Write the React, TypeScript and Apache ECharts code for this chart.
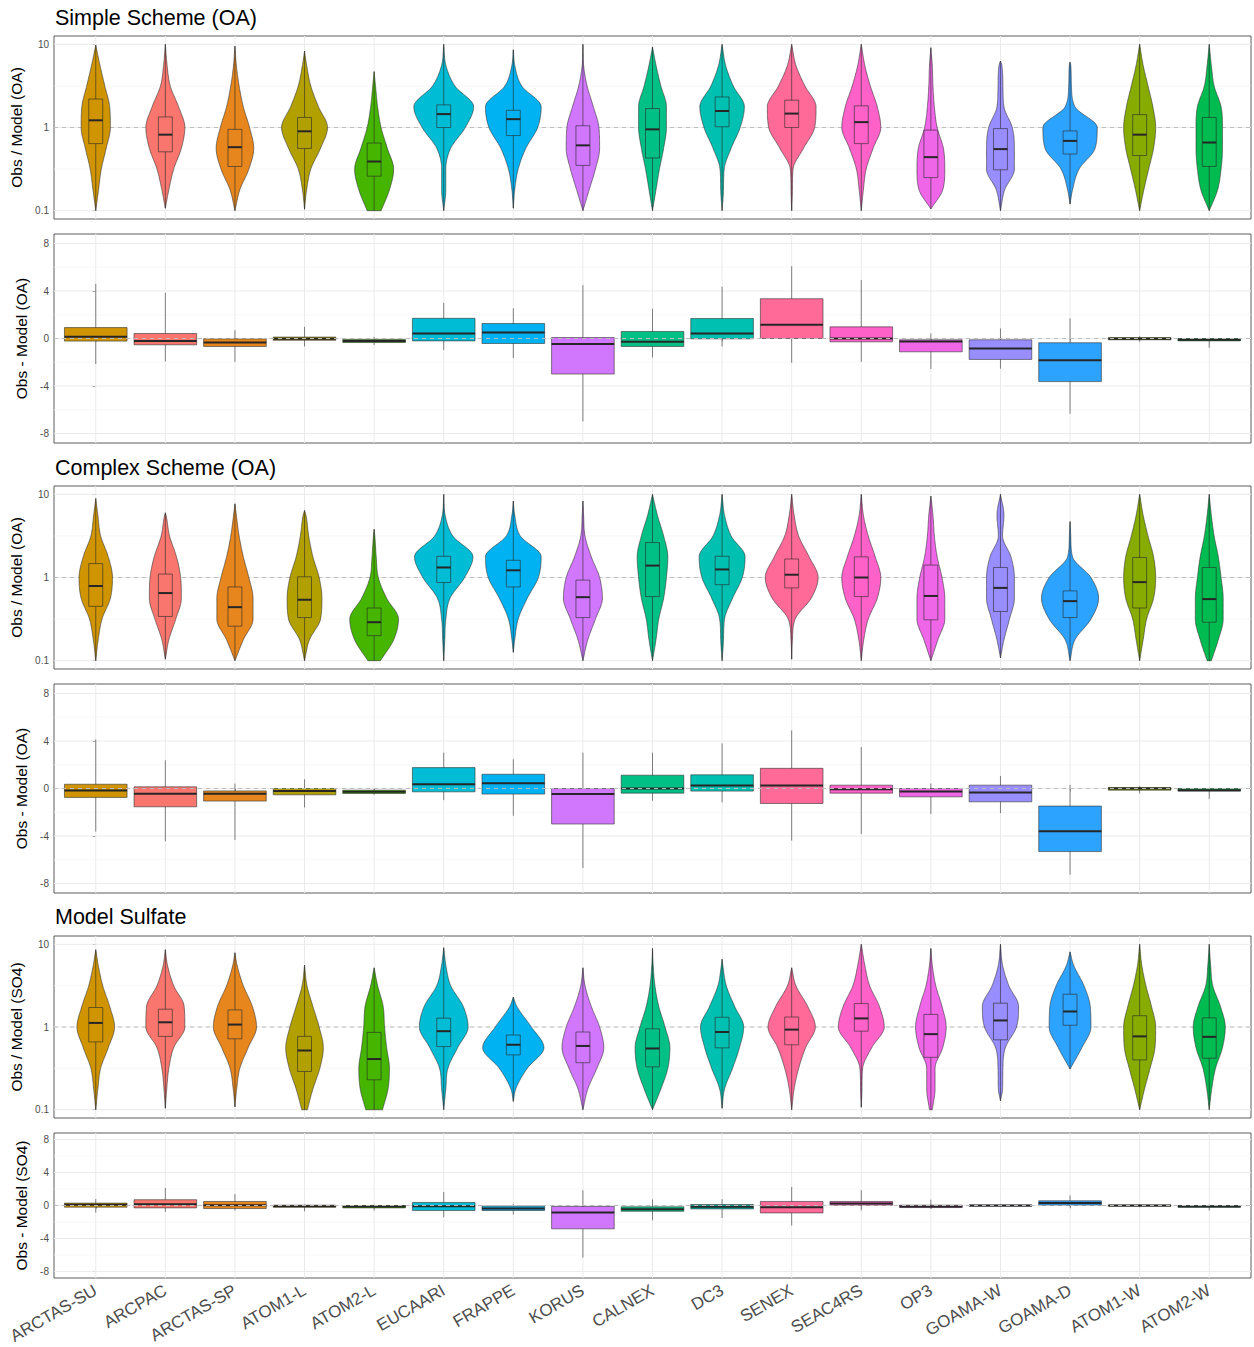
import React, { useEffect, useRef } from "react";
import * as echarts from "echarts";

// ---------------- data ----------------
const categories = [
  "ARCTAS-SU", "ARCPAC", "ARCTAS-SP", "ATOM1-L", "ATOM2-L", "EUCAARI", "FRAPPE", "KORUS",
  "CALNEX", "DC3", "SENEX", "SEAC4RS", "OP3", "GOAMA-W", "GOAMA-D", "ATOM1-W", "ATOM2-W",
];
const categoryColors = [
  "#CF9400", "#F8766D", "#E6861D", "#B2A000", "#45B500", "#00BCD4", "#00B2F1", "#D077FD",
  "#00C086", "#00C0B1", "#FF6A98", "#FE61C7", "#F066E8", "#998EFF", "#2CA3FF", "#88AB00", "#00BB50",
];

const panelTitles = ["Simple Scheme (OA)", "Complex Scheme (OA)", "Model Sulfate"];
const yAxisNames = [
  "Obs / Model (OA)", "Obs - Model (OA)",
  "Obs / Model (OA)", "Obs - Model (OA)",
  "Obs / Model (SO4)", "Obs - Model (SO4)",
];

const ratioTickValues = [0.1, 1, 10];
const ratioTickLabels = ["0.1", "1", "10"];
const ratioMinorValues = [0.3162, 3.162];
const ratioRefValue = 1;
const diffTickValues = [-8, -4, 0, 4, 8];
const diffMinorValues = [-6, -2, 2, 6];
const diffRefValue = 0;

// violin half-widths (fraction of category spacing) sampled at these log10 levels
const widthLevelsLog10 = [-1, -0.75, -0.5, -0.25, 0, 0.25, 0.5, 0.75, 1];

// ---- Simple scheme: Obs / Model ----
const simpleLo = [0.1, 0.107, 0.1, 0.104, 0.1, 0.1, 0.107, 0.1, 0.1, 0.1, 0.1, 0.1, 0.105, 0.1, 0.12, 0.1, 0.1];
const simpleHi = [9.8, 10, 9.5, 8.3, 4.7, 10, 8.6, 10, 9.3, 10, 10, 10, 9.1, 6.3, 6.1, 10, 10];
const simpleQ1 = [0.64, 0.51, 0.34, 0.56, 0.26, 1.0, 0.8, 0.35, 0.43, 1.02, 1.0, 0.64, 0.25, 0.31, 0.48, 0.46, 0.34];
const simpleMed = [1.22, 0.82, 0.58, 0.9, 0.39, 1.45, 1.26, 0.61, 0.95, 1.58, 1.47, 1.16, 0.44, 0.55, 0.69, 0.82, 0.66];
const simpleQ3 = [2.2, 1.34, 0.95, 1.32, 0.65, 1.87, 1.61, 1.05, 1.69, 2.33, 2.13, 1.82, 0.93, 0.97, 0.91, 1.43, 1.32];
const simpleWidth = [
  [0, 0.04, 0.08, 0.15, 0.21, 0.2, 0.13, 0.06, 0],
  [0, 0.05, 0.12, 0.23, 0.28, 0.19, 0.07, 0.025, 0],
  [0, 0.07, 0.2, 0.27, 0.21, 0.12, 0.06, 0.02, 0],
  [0, 0.03, 0.09, 0.23, 0.33, 0.2, 0.09, 0.03, 0],
  [0.1, 0.22, 0.28, 0.19, 0.1, 0.05, 0.02, 0, 0],
  [0, 0.03, 0.03, 0.1, 0.31, 0.43, 0.16, 0.03, 0],
  [0, 0.02, 0.07, 0.18, 0.35, 0.4, 0.12, 0.02, 0],
  [0, 0.09, 0.18, 0.24, 0.23, 0.15, 0.06, 0.01, 0],
  [0, 0.05, 0.1, 0.16, 0.2, 0.2, 0.12, 0.05, 0],
  [0, 0.02, 0.03, 0.13, 0.26, 0.32, 0.16, 0.05, 0],
  [0, 0.01, 0.02, 0.17, 0.33, 0.35, 0.19, 0.06, 0],
  [0, 0.03, 0.07, 0.17, 0.28, 0.23, 0.13, 0.05, 0],
  [0, 0.17, 0.2, 0.18, 0.09, 0.05, 0.03, 0.02, 0],
  [0, 0.06, 0.2, 0.2, 0.17, 0.05, 0.035, 0.02, 0],
  [0, 0.035, 0.13, 0.36, 0.39, 0.07, 0.02, 0.01, 0],
  [0, 0.06, 0.13, 0.2, 0.23, 0.19, 0.12, 0.05, 0],
  [0, 0.12, 0.17, 0.19, 0.19, 0.17, 0.07, 0.03, 0],
];

// ---- Simple scheme: Obs - Model ----
const simpleDiffLow = [-2.15, -1.93, -1.96, -0.67, -0.56, -0.98, -1.65, -6.98, -1.6, -0.67, -2.04, -1.96, -2.57, -2.54, -6.34, -0.28, -0.78];
const simpleDiffQ1 = [-0.22, -0.53, -0.67, -0.15, -0.34, -0.2, -0.42, -2.99, -0.67, -0.03, 0, -0.28, -1.12, -1.76, -3.63, -0.11, -0.2];
const simpleDiffMed = [0.14, -0.2, -0.34, -0.02, -0.2, 0.42, 0.5, -0.47, -0.28, 0.42, 1.15, 0.0, -0.25, -0.84, -1.84, -0.03, -0.11];
const simpleDiffQ3 = [0.92, 0.42, -0.03, 0.12, -0.08, 1.7, 1.26, 0.08, 0.59, 1.68, 3.35, 0.98, -0.11, -0.11, -0.36, 0.08, 0.0];
const simpleDiffHigh = [4.6, 3.85, 0.7, 0.98, 0.14, 3.0, 2.54, 4.5, 2.51, 4.36, 6.09, 4.92, 0.42, 0.84, 1.7, 0.2, 0.06];

// ---- Complex scheme: Obs / Model ----
const complexLo = [0.1, 0.104, 0.1, 0.1, 0.1, 0.1, 0.126, 0.1, 0.1, 0.1, 0.104, 0.1, 0.1, 0.108, 0.1, 0.1, 0.1];
const complexHi = [8.9, 6.0, 7.7, 6.4, 3.8, 10, 8.3, 8.3, 10, 10, 10, 10, 9.5, 10, 4.7, 10, 10];
const complexQ1 = [0.45, 0.34, 0.26, 0.33, 0.2, 0.87, 0.77, 0.33, 0.59, 0.82, 0.75, 0.59, 0.31, 0.39, 0.33, 0.43, 0.29];
const complexMed = [0.79, 0.65, 0.44, 0.54, 0.29, 1.32, 1.22, 0.58, 1.39, 1.25, 1.08, 1.0, 0.6, 0.75, 0.52, 0.88, 0.55];
const complexQ3 = [1.47, 1.1, 0.77, 1.02, 0.43, 1.8, 1.61, 0.93, 2.63, 1.8, 1.67, 1.77, 1.41, 1.32, 0.69, 1.74, 1.32];
const complexWidth = [
  [0, 0.035, 0.09, 0.21, 0.24, 0.18, 0.07, 0.03, 0],
  [0, 0.05, 0.15, 0.23, 0.22, 0.16, 0.06, 0.01, 0],
  [0, 0.12, 0.26, 0.26, 0.2, 0.12, 0.06, 0.02, 0],
  [0, 0.07, 0.23, 0.25, 0.21, 0.12, 0.06, 0.02, 0],
  [0.09, 0.28, 0.35, 0.18, 0.06, 0.03, 0.01, 0, 0],
  [0, 0.015, 0.03, 0.09, 0.3, 0.42, 0.13, 0.02, 0],
  [0, 0.02, 0.07, 0.2, 0.36, 0.4, 0.1, 0.02, 0],
  [0, 0.07, 0.18, 0.28, 0.24, 0.12, 0.03, 0.01, 0],
  [0, 0.05, 0.09, 0.16, 0.2, 0.22, 0.16, 0.07, 0],
  [0, 0.02, 0.035, 0.15, 0.29, 0.33, 0.13, 0.035, 0],
  [0, 0.01, 0.05, 0.28, 0.38, 0.25, 0.1, 0.035, 0],
  [0, 0.035, 0.1, 0.23, 0.28, 0.2, 0.1, 0.03, 0],
  [0, 0.1, 0.2, 0.2, 0.16, 0.09, 0.05, 0.03, 0],
  [0, 0.05, 0.13, 0.2, 0.2, 0.15, 0.03, 0.05, 0],
  [0, 0.07, 0.3, 0.41, 0.3, 0.035, 0.01, 0, 0],
  [0, 0.05, 0.1, 0.2, 0.23, 0.2, 0.12, 0.05, 0],
  [0.03, 0.13, 0.2, 0.2, 0.17, 0.13, 0.07, 0.03, 0],
];

// ---- Complex scheme: Obs - Model ----
const complexDiffLow = [-3.63, -4.44, -4.33, -1.59, -0.53, -0.98, -2.29, -6.7, -1.03, -1.17, -4.39, -3.83, -2.15, -2.07, -7.26, -0.42, -0.89];
const complexDiffQ1 = [-0.75, -1.54, -1.06, -0.53, -0.42, -0.28, -0.47, -2.99, -0.39, -0.22, -1.26, -0.39, -0.7, -1.12, -5.31, -0.14, -0.22];
const complexDiffMed = [-0.17, -0.45, -0.45, -0.22, -0.28, 0.36, 0.45, -0.47, 0.0, 0.25, 0.25, -0.06, -0.25, -0.34, -3.6, 0.0, -0.14];
const complexDiffQ3 = [0.36, 0.14, -0.2, 0.0, -0.14, 1.76, 1.2, 0.0, 1.12, 1.15, 1.7, 0.28, 0.0, 0.28, -1.48, 0.08, 0.0];
const complexDiffHigh = [4.13, 2.37, 0.42, 0.78, 0.0, 3.02, 2.46, 3.02, 3.02, 3.8, 4.89, 3.49, 0.42, 1.06, 0.31, 0.22, 0.06];

// ---- Sulfate: Obs / Model ----
const sulfateLo = [0.1, 0.104, 0.108, 0.1, 0.1, 0.1, 0.126, 0.1, 0.1, 0.104, 0.1, 0.107, 0.1, 0.128, 0.31, 0.1, 0.1];
const sulfateHi = [8.6, 8.6, 7.9, 5.6, 5.2, 9.1, 2.3, 5.2, 8.9, 6.6, 5.2, 10, 8.9, 10, 8.1, 10, 10];
const sulfateQ1 = [0.66, 0.77, 0.72, 0.29, 0.23, 0.58, 0.46, 0.37, 0.33, 0.56, 0.61, 0.89, 0.43, 0.7, 1.05, 0.4, 0.42];
const sulfateMed = [1.12, 1.14, 1.07, 0.52, 0.41, 0.89, 0.61, 0.59, 0.55, 0.87, 0.93, 1.27, 0.82, 1.2, 1.54, 0.77, 0.76];
const sulfateQ3 = [1.72, 1.64, 1.61, 0.77, 0.86, 1.28, 0.8, 0.87, 0.95, 1.31, 1.32, 1.92, 1.42, 1.94, 2.49, 1.37, 1.29];
const sulfateWidth = [
  [0, 0.03, 0.07, 0.18, 0.27, 0.2, 0.1, 0.035, 0],
  [0, 0.02, 0.05, 0.12, 0.28, 0.27, 0.12, 0.03, 0],
  [0, 0.025, 0.07, 0.19, 0.31, 0.25, 0.12, 0.03, 0],
  [0.04, 0.12, 0.22, 0.27, 0.21, 0.12, 0.035, 0, 0],
  [0.12, 0.2, 0.22, 0.18, 0.15, 0.13, 0.05, 0, 0],
  [0, 0.03, 0.06, 0.2, 0.35, 0.28, 0.1, 0.03, 0],
  [0, 0.035, 0.2, 0.44, 0.26, 0.05, 0, 0, 0],
  [0, 0.07, 0.2, 0.3, 0.24, 0.12, 0.03, 0, 0],
  [0, 0.12, 0.22, 0.25, 0.18, 0.09, 0.035, 0.01, 0],
  [0, 0.035, 0.15, 0.25, 0.31, 0.18, 0.06, 0.01, 0],
  [0, 0.035, 0.1, 0.2, 0.34, 0.23, 0.06, 0, 0],
  [0, 0.01, 0.02, 0.15, 0.33, 0.26, 0.12, 0.05, 0],
  [0.02, 0.06, 0.06, 0.17, 0.22, 0.16, 0.07, 0.02, 0],
  [0, 0.03, 0.035, 0.07, 0.23, 0.26, 0.12, 0.03, 0],
  [0, 0, 0.01, 0.17, 0.3, 0.29, 0.2, 0.05, 0],
  [0, 0.07, 0.15, 0.22, 0.23, 0.17, 0.09, 0.03, 0],
  [0, 0.035, 0.09, 0.19, 0.23, 0.16, 0.05, 0.02, 0],
];

// ---- Sulfate: Obs - Model ----
const sulfateDiffLow = [-0.86, -0.78, -0.61, -0.7, -0.61, -1.43, -1.1, -6.31, -1.8, -1.52, -2.42, -0.61, -0.41, -0.16, -0.25, -0.2, -0.61];
const sulfateDiffQ1 = [-0.2, -0.29, -0.37, -0.2, -0.29, -0.61, -0.61, -2.83, -0.7, -0.41, -0.9, 0.04, -0.25, -0.08, 0.04, -0.08, -0.2];
const sulfateDiffMed = [0.08, 0.16, 0.04, -0.08, -0.12, -0.08, -0.37, -0.86, -0.45, -0.16, -0.2, 0.25, -0.12, 0.0, 0.29, 0.0, -0.12];
const sulfateDiffQ3 = [0.29, 0.7, 0.49, 0.04, 0.0, 0.37, -0.08, -0.12, -0.16, 0.12, 0.49, 0.49, 0.04, 0.04, 0.57, 0.04, 0.0];
const sulfateDiffHigh = [0.78, 2.13, 1.39, 0.12, 0.12, 1.64, 0.2, 1.84, 0.74, 0.78, 2.25, 1.84, 0.7, 0.12, 1.23, 0.16, 0.12];

// ---------------- layout / style ----------------
const FONT = "'Liberation Sans', Arial, Helvetica, sans-serif";
const X_MIN = -0.6;
const X_MAX = 16.6;
const RATIO_MIN = -1.1;
const RATIO_MAX = 1.1;
const DIFF_MIN = -8.8;
const DIFF_MAX = 8.8;
const GRID_LEFT = 54;
const GRID_WIDTH = 1197;
const PANEL_LAYOUT = [
  { top: 36, height: 183, kind: "ratio" },
  { top: 234, height: 209, kind: "diff" },
  { top: 486, height: 183, kind: "ratio" },
  { top: 684, height: 209, kind: "diff" },
  { top: 936, height: 182, kind: "ratio" },
  { top: 1133, height: 145, kind: "diff" },
];
const TITLE_TOPS = [7, 457, 906];

const violinData = (lo: number[], hi: number[], q1: number[], med: number[], q3: number[], widths: number[][]) =>
  categories.map((_, i) => [
    i, Math.log10(lo[i]), Math.log10(hi[i]), Math.log10(q1[i]), Math.log10(med[i]), Math.log10(q3[i]), ...widths[i],
  ]);

const boxData = (low: number[], q1: number[], med: number[], q3: number[], high: number[]) =>
  categories.map((_, i) => [i, low[i], q1[i], med[i], q3[i], high[i]]);

const PANEL_DATA: any[] = [
  violinData(simpleLo, simpleHi, simpleQ1, simpleMed, simpleQ3, simpleWidth),
  boxData(simpleDiffLow, simpleDiffQ1, simpleDiffMed, simpleDiffQ3, simpleDiffHigh),
  violinData(complexLo, complexHi, complexQ1, complexMed, complexQ3, complexWidth),
  boxData(complexDiffLow, complexDiffQ1, complexDiffMed, complexDiffQ3, complexDiffHigh),
  violinData(sulfateLo, sulfateHi, sulfateQ1, sulfateMed, sulfateQ3, sulfateWidth),
  boxData(sulfateDiffLow, sulfateDiffQ1, sulfateDiffMed, sulfateDiffQ3, sulfateDiffHigh),
];

// monotone cubic (Fritsch-Carlson) for smooth violin outlines
function monotoneInterpolator(xs: number[], ys: number[]) {
  const n = xs.length;
  const d: number[] = [];
  for (let i = 0; i < n - 1; i++) d.push((ys[i + 1] - ys[i]) / (xs[i + 1] - xs[i]));
  const m: number[] = new Array(n).fill(0);
  m[0] = d[0];
  m[n - 1] = d[n - 2];
  for (let i = 1; i < n - 1; i++) m[i] = d[i - 1] * d[i] <= 0 ? 0 : (d[i - 1] + d[i]) / 2;
  for (let i = 0; i < n - 1; i++) {
    if (d[i] === 0) {
      m[i] = 0;
      m[i + 1] = 0;
      continue;
    }
    const a = m[i] / d[i];
    const b = m[i + 1] / d[i];
    const s = a * a + b * b;
    if (s > 9) {
      const t = 3 / Math.sqrt(s);
      m[i] = t * a * d[i];
      m[i + 1] = t * b * d[i];
    }
  }
  return (x: number) => {
    let i = 0;
    while (i < n - 2 && x > xs[i + 1]) i++;
    const h = xs[i + 1] - xs[i];
    const t = Math.min(1, Math.max(0, (x - xs[i]) / h));
    const t2 = t * t;
    const t3 = t2 * t;
    return (
      (2 * t3 - 3 * t2 + 1) * ys[i] + (t3 - 2 * t2 + t) * h * m[i] +
      (-2 * t3 + 3 * t2) * ys[i + 1] + (t3 - t2) * h * m[i + 1]
    );
  };
}

const renderViolin = (_params: any, api: any) => {
  const i = api.value(0);
  const lo = api.value(1);
  const hi = api.value(2);
  const q1 = api.value(3);
  const med = api.value(4);
  const q3 = api.value(5);
  const w = widthLevelsLog10.map((_, k) => api.value(6 + k));
  const c0 = api.coord([i, 0]);
  const unit = api.coord([i + 1, 0])[0] - c0[0];
  const xs = [lo];
  const ys = [lo <= -0.999 ? w[0] : 0];
  widthLevelsLog10.forEach((lv, k) => {
    if (lv > lo + 0.01 && lv < hi - 0.01) {
      xs.push(lv);
      ys.push(w[k]);
    }
  });
  xs.push(hi);
  ys.push(hi >= 0.999 ? w[w.length - 1] : 0);
  const f = monotoneInterpolator(xs, ys);
  const right: number[][] = [];
  const left: number[][] = [];
  const N = 140;
  for (let s = 0; s <= N; s++) {
    const y = lo + ((hi - lo) * s) / N;
    const hw = Math.max(0, f(y)) * unit;
    const p = api.coord([i, y]);
    right.push([p[0] + hw, p[1]]);
    left.push([p[0] - hw, p[1]]);
  }
  const pts = right.concat(left.reverse());
  const color = categoryColors[i];
  const bh = 0.1 * unit;
  const pLo = api.coord([i, lo]);
  const pHi = api.coord([i, hi]);
  const pQ1 = api.coord([i, q1]);
  const pQ3 = api.coord([i, q3]);
  const pMed = api.coord([i, med]);
  return {
    type: "group",
    children: [
      { type: "polygon", shape: { points: pts }, style: { fill: color, stroke: "#333333", lineWidth: 0.6 } },
      { type: "line", shape: { x1: pLo[0], y1: pLo[1], x2: pHi[0], y2: pHi[1] }, style: { stroke: "rgba(40,40,40,0.85)", lineWidth: 0.7 } },
      {
        type: "rect",
        shape: { x: pQ3[0] - bh, y: pQ3[1], width: 2 * bh, height: pQ1[1] - pQ3[1] },
        style: { fill: color, stroke: "rgba(40,40,40,0.75)", lineWidth: 0.8 },
      },
      { type: "line", shape: { x1: pMed[0] - bh, y1: pMed[1], x2: pMed[0] + bh, y2: pMed[1] }, style: { stroke: "#262626", lineWidth: 2 } },
    ],
  };
};

const renderBox = (_params: any, api: any) => {
  const i = api.value(0);
  const pLo = api.coord([i, api.value(1)]);
  const pQ1 = api.coord([i, api.value(2)]);
  const pMed = api.coord([i, api.value(3)]);
  const pQ3 = api.coord([i, api.value(4)]);
  const pHi = api.coord([i, api.value(5)]);
  const unit = api.coord([i + 1, 0])[0] - api.coord([i, 0])[0];
  const hw = 0.45 * unit;
  const color = categoryColors[i];
  return {
    type: "group",
    children: [
      { type: "line", shape: { x1: pHi[0], y1: pHi[1], x2: pLo[0], y2: pLo[1] }, style: { stroke: "#333333", lineWidth: 0.6 } },
      {
        type: "rect",
        shape: { x: pQ3[0] - hw, y: pQ3[1], width: 2 * hw, height: Math.max(0.5, pQ1[1] - pQ3[1]) },
        style: { fill: color, stroke: "#333333", lineWidth: 0.6 },
      },
      { type: "line", shape: { x1: pMed[0] - hw, y1: pMed[1], x2: pMed[0] + hw, y2: pMed[1] }, style: { stroke: "#262626", lineWidth: 2 } },
    ],
  };
};

const renderSegment = (_params: any, api: any) => {
  const p0 = api.coord([api.value(0), api.value(1)]);
  const p1 = api.coord([api.value(2), api.value(3)]);
  const kind = api.value(4);
  const style =
    kind === 2
      ? { stroke: "#BDBDBD", lineWidth: 1, lineDash: [4, 4] }
      : kind === 1
      ? { stroke: "#EBEBEB", lineWidth: 1 }
      : { stroke: "#F3F3F3", lineWidth: 0.7 };
  return { type: "line", shape: { x1: p0[0], y1: p0[1], x2: p1[0], y2: p1[1] }, style };
};

function buildOption() {
  const grid: any[] = [];
  const xAxis: any[] = [];
  const yAxis: any[] = [];
  const series: any[] = [];
  const idx = categories.map((_, i) => i);

  PANEL_LAYOUT.forEach((p, k) => {
    const isRatio = p.kind === "ratio";
    const yMin = isRatio ? RATIO_MIN : DIFF_MIN;
    const yMax = isRatio ? RATIO_MAX : DIFF_MAX;
    const majors = isRatio ? ratioTickValues.map((v) => Math.log10(v)) : diffTickValues;
    const minors = isRatio ? ratioMinorValues.map((v) => Math.log10(v)) : diffMinorValues;
    const ref = isRatio ? Math.log10(ratioRefValue) : diffRefValue;

    grid.push({
      left: GRID_LEFT, top: p.top, width: GRID_WIDTH, height: p.height,
      show: true, borderColor: "#333333", borderWidth: 0.8, backgroundColor: "#FFFFFF", containLabel: false,
    });
    xAxis.push({
      gridIndex: k, type: "value", min: X_MIN, max: X_MAX,
      axisLine: { show: false }, splitLine: { show: false },
      axisTick: { show: true, customValues: idx, length: 3, lineStyle: { color: "#333333", width: 0.8 } },
      axisLabel: {
        show: k === PANEL_LAYOUT.length - 1, customValues: idx,
        formatter: (v: number) => categories[Math.round(v)] ?? "",
        rotate: 30, margin: 11, fontSize: 17, color: "#4D4D4D", fontFamily: FONT,
      },
    });
    yAxis.push({
      gridIndex: k, type: "value", min: yMin, max: yMax,
      axisLine: { show: false }, splitLine: { show: false },
      axisTick: { show: true, customValues: majors, length: 3, lineStyle: { color: "#333333", width: 0.8 } },
      axisLabel: {
        customValues: majors,
        formatter: (v: number) => {
          if (!isRatio) return String(v);
          const j = majors.findIndex((m) => Math.abs(m - v) < 1e-6);
          return j >= 0 ? ratioTickLabels[j] : "";
        },
        fontSize: 10, color: "#4D4D4D", margin: 5, fontFamily: FONT,
      },
      name: yAxisNames[k], nameLocation: "middle", nameGap: 17,
      nameTextStyle: { fontSize: 15.5, color: "#000000", fontFamily: FONT },
    });

    const gridLines = [
      ...minors.map((v) => [X_MIN, v, X_MAX, v, 0]),
      ...majors.map((v) => [X_MIN, v, X_MAX, v, 1]),
      ...idx.map((i) => [i, yMin, i, yMax, 1]),
    ];
    series.push({
      type: "custom", xAxisIndex: k, yAxisIndex: k, z: 1, silent: true,
      renderItem: renderSegment, data: gridLines, encode: { x: [0, 2], y: [1, 3] },
    });
    series.push({
      type: "custom", xAxisIndex: k, yAxisIndex: k, z: isRatio ? 2 : 4, silent: true,
      renderItem: renderSegment, data: [[X_MIN, ref, X_MAX, ref, 2]], encode: { x: [0, 2], y: [1, 3] },
    });
    series.push({
      type: "custom", xAxisIndex: k, yAxisIndex: k, z: 3, silent: true,
      renderItem: isRatio ? renderViolin : renderBox,
      data: PANEL_DATA[k],
      encode: isRatio ? { x: 0, y: [1, 2] } : { x: 0, y: [1, 5] },
    });
  });

  return {
    animation: false,
    backgroundColor: "#FFFFFF",
    title: panelTitles.map((t, k) => ({
      text: t, left: 55, top: TITLE_TOPS[k], padding: 0,
      textStyle: { fontSize: 21.5, fontWeight: "normal", color: "#000000", fontFamily: FONT },
    })),
    grid, xAxis, yAxis, series,
  };
}

export default function App() {
  const ref = useRef<HTMLDivElement>(null);
  useEffect(() => {
    document.body.style.margin = "0";
    const chart = echarts.init(ref.current as HTMLDivElement, null, { renderer: "svg" });
    chart.setOption(buildOption() as any);
    return () => chart.dispose();
  }, []);
  return <div ref={ref} style={{ width: 1254, height: 1347 }} />;
}
